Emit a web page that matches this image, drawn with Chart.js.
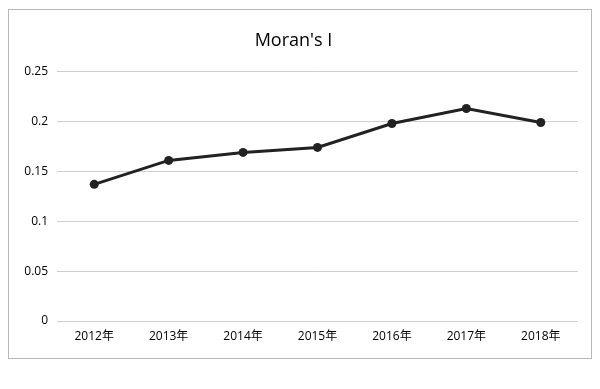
<!DOCTYPE html>
<html>
<head>
<meta charset="utf-8">
<script src="https://cdn.jsdelivr.net/npm/chart.js@4/dist/chart.umd.min.js"></script>
<style>
  body { margin: 0; background: #fff; }
  #box {
    position: absolute; left: 8px; top: 9px;
    width: 582px; height: 348px;
    border: 1px solid #b8b8b8;
  }
</style>
</head>
<body>
<div id="box"><canvas id="moranChart" width="582" height="348"></canvas></div>
<script>
// Data
const years = ['2012年', '2013年', '2014年', '2015年', '2016年', '2017年', '2018年'];
const moranValues = [0.137, 0.161, 0.169, 0.174, 0.198, 0.213, 0.199];
const yTicks = [0, 0.05, 0.1, 0.15, 0.2, 0.25];

const fontFamily = '"Open Sans", "Noto Sans CJK SC", sans-serif';

const ctx = document.getElementById('moranChart').getContext('2d');
const moranChart = new Chart(ctx, {
    type: 'line',
    data: {
        labels: years,
        datasets: [{
            label: "Moran's I",
            data: moranValues,
            borderColor: '#222',
            backgroundColor: '#222',
            borderWidth: 3,
            pointRadius: 4.5,
            pointBackgroundColor: '#222',
            pointBorderWidth: 0,
            tension: 0
        }]
    },
    options: {
        responsive: false,
        animation: false,
        layout: { padding: { left: 0, right: 13, top: 0, bottom: 0 } },
        plugins: {
            legend: { display: false },
            tooltip: { enabled: false },
            title: {
                display: true,
                text: "Moran's I",
                color: '#000',
                font: { family: fontFamily, size: 18, weight: 'normal' },
                padding: { top: 20, bottom: 20 }
            }
        },
        scales: {
            x: {
                offset: true,
                grid: { display: false, drawTicks: false },
                border: { display: false },
                ticks: {
                    color: '#000',
                    font: { family: fontFamily, size: 12 },
                    padding: 8,
                    maxRotation: 0
                },
                afterFit: (scale) => { scale.height = 37; }
            },
            y: {
                min: 0,
                max: 0.25,
                grid: { color: '#cfcfcf', lineWidth: 1, drawTicks: false },
                border: { display: false },
                afterBuildTicks: (scale) => {
                    scale.ticks = yTicks.map(v => ({ value: v }));
                },
                ticks: {
                    color: '#000',
                    font: { family: fontFamily, size: 12 },
                    padding: 9,
                    callback: (v) => String(v)
                },
                afterFit: (scale) => { scale.width = 48; }
            }
        }
    }
});
</script>
</body>
</html>
